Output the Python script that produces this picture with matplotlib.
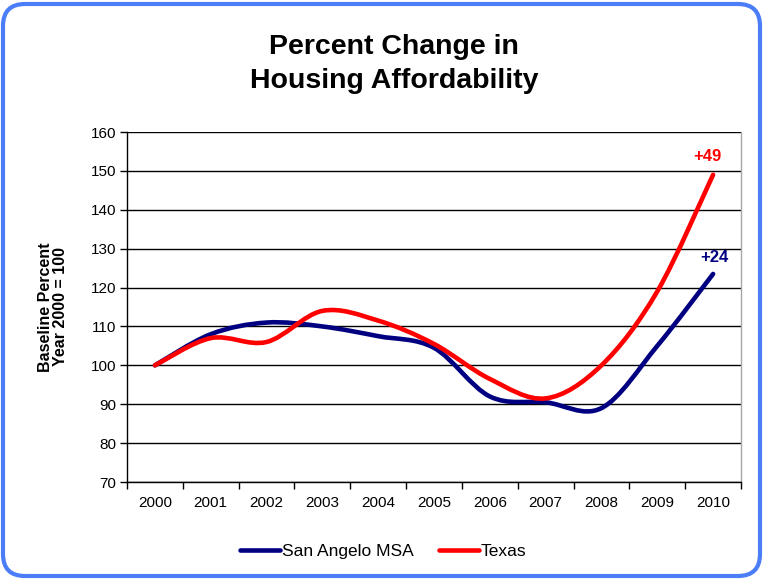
import matplotlib
matplotlib.use("Agg")
import matplotlib.pyplot as plt
from matplotlib.path import Path
from matplotlib.patches import PathPatch, FancyBboxPatch
from matplotlib.lines import Line2D
from matplotlib.transforms import IdentityTransform
import numpy as np

plt.rcParams['font.family'] = ['Liberation Sans', 'DejaVu Sans']

years = ['2000', '2001', '2002', '2003', '2004', '2005', '2006', '2007', '2008', '2009', '2010']
san_angelo = [100, 108, 111, 110, 107.5, 104.5, 92, 90.5, 89, 105, 123.5]
texas = [100, 107, 106, 114, 111.5, 105.5, 96.5, 91.5, 100, 119, 149]
series_names = ['San Angelo MSA', 'Texas']
series_colors = ['#000080', '#FF0000']
end_labels = ['+24', '+49']


def smooth_path(xs, ys):
    pts = np.column_stack([xs, ys]).astype(float)
    n = len(pts)
    verts = [pts[0]]
    codes = [Path.MOVETO]
    for i in range(n - 1):
        p0 = pts[i - 1] if i > 0 else pts[i]
        p1 = pts[i]
        p2 = pts[i + 1]
        p3 = pts[i + 2] if i + 2 < n else pts[i + 1]
        c1 = p1 + (p2 - p0) / 6.0
        c2 = p2 - (p3 - p1) / 6.0
        verts += [c1, c2, p2]
        codes += [Path.CURVE4] * 3
    return Path(verts, codes)


fig = plt.figure(figsize=(7.64, 5.79), dpi=100)
fig.patch.set_facecolor('white')
ax = fig.add_axes([127/764, 1-482/579, (741-127)/764, (482-132)/579])

x = np.arange(len(years))
for vals, col, name in zip([san_angelo, texas], series_colors, series_names):
    p = smooth_path(x, vals)
    ax.add_patch(PathPatch(p, facecolor='none', edgecolor=col, lw=3.3,
                           capstyle='round', joinstyle='round', zorder=3))

ax.set_xlim(-0.5, len(years) - 0.5)
ax.set_ylim(70, 160)
ax.set_yticks(np.arange(70, 161, 10))
ax.set_xticks(x)
ax.set_xticklabels(years)
ax.set_xticks(np.arange(-0.5, len(years), 1), minor=True)
ax.tick_params(axis='x', which='major', length=0, pad=10, labelsize=11)
ax.tick_params(axis='x', which='minor', length=5, direction='out', width=1)
ax.tick_params(axis='y', length=5, direction='out', width=1, labelsize=11, pad=3)
ax.grid(axis='y', color='black', lw=1, zorder=1)
ax.spines['top'].set_visible(False)
ax.spines['right'].set_color('#A6A6A6')
ax.spines['right'].set_linewidth(1)
for s in ['left', 'bottom']:
    ax.spines[s].set_color('black')
    ax.spines[s].set_linewidth(1)

ax.set_ylabel('Baseline Percent\nYear 2000 = 100', fontsize=11.5, fontweight='bold',
              linespacing=1.0)
ax.yaxis.set_label_coords((68 - 127) / 614, 0.5)

ax.annotate(end_labels[1], (x[-1], texas[-1]), xytext=(-4, 8), textcoords='offset points',
            ha='center', va='bottom', color=series_colors[1], fontsize=12, fontweight='bold')
ax.annotate(end_labels[0], (x[-1], san_angelo[-1]), xytext=(1, 6.5), textcoords='offset points',
            ha='center', va='bottom', color=series_colors[0], fontsize=12, fontweight='bold')

fig.text(394/764, 1-64/579, 'Percent Change in\nHousing Affordability', ha='center', va='center',
         fontsize=20.5, fontweight='bold', linespacing=1.38)

handles = [Line2D([0], [0], color=c, lw=3.3, solid_capstyle='round') for c in series_colors]
fig.legend(handles, series_names, loc='center', bbox_to_anchor=(383/764, 1-551/579),
           ncol=2, frameon=False, fontsize=12.5, handlelength=2.3, handletextpad=0.1,
           columnspacing=1.45)

border = FancyBboxPatch((3, 3), 757, 572, boxstyle='round,pad=0,rounding_size=22',
                        transform=IdentityTransform(), facecolor='none',
                        edgecolor='#4A7DF7', lw=3)
fig.patches.append(border)

fig.savefig('out.png', dpi=100, facecolor='white')
